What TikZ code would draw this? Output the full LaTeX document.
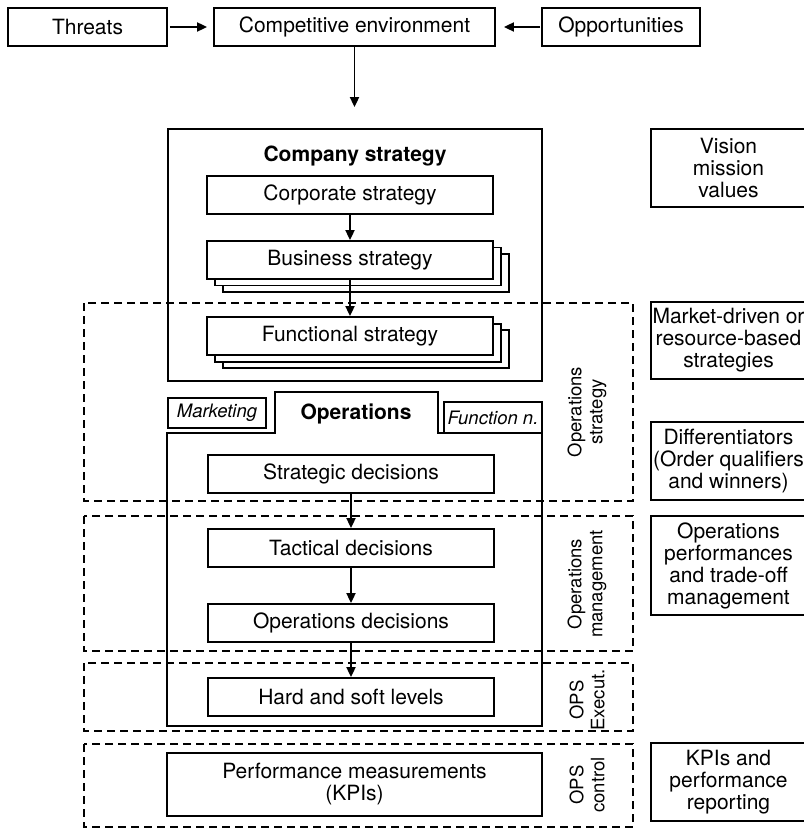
\documentclass[tikz,border=0pt]{standalone}
\usepackage{fontspec}
\setmainfont{TeX Gyre Heros}
\usetikzlibrary{positioning,arrows.meta,shadows,calc}

\begin{document}
\begin{tikzpicture}[
  x=0.5pt, y=-0.5pt,
  font=\fontsize{10.5}{11}\selectfont,
  line width=0.9pt,
  box/.style={draw, fill=white, align=center, inner sep=0pt, minimum height=19pt},
  level/.style={box, minimum width=143pt},
  stack/.style={level, double copy shadow={shadow xshift=4pt, shadow yshift=-3.3pt}},
  note/.style={box, minimum width=77.5pt, minimum height=39pt},
  tabbox/.style={draw, inner sep=0pt, minimum width=49pt, minimum height=15pt,
    font=\fontsize{9.25}{10}\selectfont\itshape},
  zone/.style={draw, line width=0.75pt, dash pattern=on 4pt off 2.5pt},
  side/.style={align=center, rotate=90, font=\fontsize{9.25}{10.5}\selectfont},
  flow/.style={-{Triangle[length=5pt,width=4.5pt]}}]
\useasboundingbox (0,0) rectangle (803,828);

% environment
\node[box, minimum width=79.5pt] (threats) at (87.5,27) {Threats};
\node[box, minimum width=140.5pt] (compenv) at (354.5,27) {Competitive environment};
\node[box, minimum width=79pt] (opps) at (621,27) {Opportunities};

% dashed zones
\draw[zone] (84,303) rectangle (633,501);
\draw[zone] (84,516) rectangle (633,651);
\draw[zone] (84,663) rectangle (633,731);
\draw[zone] (84,744) rectangle (633,827);

% company strategy
\node[draw, minimum width=187pt, minimum height=126pt] (company) at (355,255) {};
\node[font=\fontsize{10.5}{11}\selectfont\bfseries] (companytitle) at (355,156) {Company strategy};
\node[level] (corporate) at (350,195) {Corporate strategy};
\node[stack] (business) at (350,260) {Business strategy};
\node[stack] (functional) at (350,336) {Functional strategy};

% operations function
\draw (167,433) -- (275,433) -- (275,392) -- (438,392) -- (438,433) -- (542,433)
  -- (542,726) -- (167,726) -- cycle;
\node[tabbox] (marketing) at (217,413) {Marketing};
\node[tabbox, minimum height=15.5pt] (functionn) at (493,417.5) {Function n.};
\node[font=\fontsize{10.5}{11}\selectfont\bfseries] (operations) at (356,414) {Operations};
\node[level] (strategic) at (351,474) {Strategic decisions};
\node[level] (tactical) at (351,548) {Tactical decisions};
\node[level] (opsdec) at (351,623) {Operations decisions};
\node[level] (hardsoft) at (351,697) {Hard and soft levels};
\node[box, minimum width=187.5pt, minimum height=31.5pt] (kpi) at (354.5,784.5)
  {Performance measurements\\(KPIs)};

% zone labels
\node[side] (opsstrat) at (587,412) {Operations\\strategy};
\node[side] (opsmgmt) at (587,584) {Operations\\management};
\node[side] (opsexec) at (587,700) {OPS\\Execut.};
\node[side] (opscontrol) at (587,785) {OPS\\control};

% right column
\node[note] (vision) at (728.5,168) {Vision\\mission\\values};
\node[note, minimum height=38.5pt] (market) at (728.5,340.5) {Market-driven or\\resource-based\\strategies};
\node[note] (diff) at (728.5,461) {Differentiators\\(Order qualifiers\\and winners)};
\node[note, minimum height=49.5pt] (perf) at (728.5,565.5) {Operations\\performances\\and trade-off\\management};
\node[note] (kpirep) at (728.5,782) {KPIs and\\performance\\reporting};

% arrows
\draw[flow, shorten <=1pt, shorten >=3pt] (threats) -- (compenv);
\draw[flow, shorten <=0.5pt, shorten >=4pt] (opps) -- (compenv);
\draw[flow, shorten >=10.5pt] (compenv.south) -- (compenv.south |- company.north);
\draw[flow] (corporate) -- (business);
\draw[flow] (business) -- (functional);
\draw[flow] (strategic) -- (tactical);
\draw[flow] (tactical) -- (opsdec);
\draw[flow] (opsdec) -- (hardsoft);
\end{tikzpicture}
\end{document}
